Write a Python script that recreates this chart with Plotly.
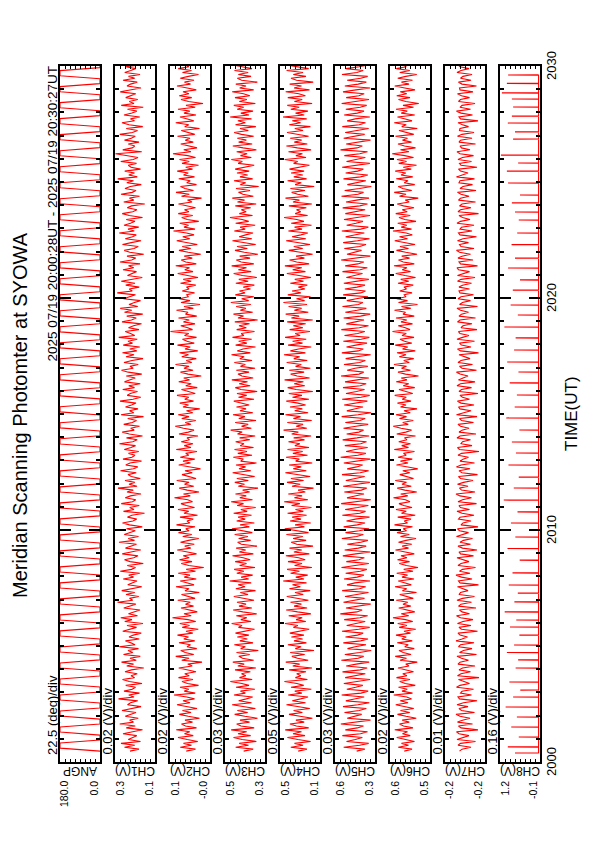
import plotly.graph_objects as go

PAGE_W, PAGE_H = 595, 842
BODY = 8  # default page margin of the html body
W, H = PAGE_W - BODY, PAGE_H - BODY
FONT = "Liberation Sans, Arial, Helvetica, sans-serif"

TITLE = "Meridian Scanning Photomter at SYOWA"
PERIOD = "2025 07/19 20:00:28UT - 2025 07/19 20:30:27UT"
TIME_TICKS = [2000, 2010, 2020, 2030]
TIME_LABELS = ["2000", "2010", "2020", "2030"]
TIME_TITLE = "TIME(UT)"

PANEL_NAMES = ["ANGP", "CH1(V)", "CH2(V)", "CH3(V)", "CH4(V)", "CH5(V)", "CH6(V)", "CH7(V)", "CH8(V)"]
PANEL_SCALE = ["22.5 (deg)/div", "0.02 (V)/div", "0.02 (V)/div", "0.03 (V)/div", "0.05 (V)/div",
               "0.03 (V)/div", "0.02 (V)/div", "0.01 (V)/div", "0.16 (V)/div"]
PANEL_LO = [0.0, 0.14, -0.04, 0.30, 0.12, 0.36, 0.50, -0.24, -0.08]
PANEL_DIV = [22.5, 0.02, 0.02, 0.03, 0.05, 0.03, 0.02, 0.01, 0.16]
N_DIV = 8
HI_LABELS = ["180.0", "0.3", "0.1", "0.5", "0.5", "0.6", "0.6", "-0.2", "1.2"]
LO_LABELS = ["0.0", "0.1", "-0.0", "0.3", "0.1", "0.3", "0.5", "-0.2", "-0.1"]

# sampling of the photometer channels (minutes on an HHMM-style axis)
T_START = 2000.47
T_STEP = 1 / 12

# scanner angle: each sweep starts / ends at these times and ends at ANGP_LEVEL (deg)
ANGP_INITIAL = 0
ANGP_SWEEP_START = [2000.47, 2000.82, 2001.16, 2001.51, 2001.85, 2002.20, 2002.54, 2002.89, 2003.23, 2003.58,
                    2003.92, 2004.27, 2004.61, 2004.96, 2005.30, 2005.65, 2005.99, 2006.34, 2006.68, 2007.03,
                    2007.37, 2007.72, 2008.06, 2008.41, 2008.75, 2009.10, 2009.44, 2009.79, 2010.13, 2010.48,
                    2010.82, 2011.17, 2011.51, 2011.86, 2012.20, 2012.55, 2012.89, 2013.24, 2013.58, 2013.93,
                    2014.27, 2014.62, 2014.96, 2015.31, 2015.65, 2016.00, 2016.34, 2016.69, 2017.03, 2017.38,
                    2017.72, 2018.07, 2018.41, 2018.76, 2019.10, 2019.45, 2019.79, 2020.14, 2020.48, 2020.83,
                    2021.17, 2021.52, 2021.86, 2022.21, 2022.55, 2022.90, 2023.24, 2023.59, 2023.93, 2024.28,
                    2024.62, 2024.97, 2025.31, 2025.66, 2026.00, 2026.35, 2026.69, 2027.04, 2027.38, 2027.73,
                    2028.07, 2028.42, 2028.76, 2029.11, 2029.45, 2029.80, 2030.14]
ANGP_SWEEP_END = [2000.60, 2000.95, 2001.29, 2001.64, 2001.98, 2002.33, 2002.67, 2003.02, 2003.36, 2003.71,
                  2004.05, 2004.40, 2004.74, 2005.09, 2005.43, 2005.78, 2006.12, 2006.47, 2006.81, 2007.16,
                  2007.50, 2007.85, 2008.19, 2008.54, 2008.88, 2009.23, 2009.57, 2009.92, 2010.26, 2010.61,
                  2010.95, 2011.30, 2011.64, 2011.99, 2012.33, 2012.68, 2013.02, 2013.37, 2013.71, 2014.06,
                  2014.40, 2014.75, 2015.09, 2015.44, 2015.78, 2016.13, 2016.47, 2016.82, 2017.16, 2017.51,
                  2017.85, 2018.20, 2018.54, 2018.89, 2019.23, 2019.58, 2019.92, 2020.27, 2020.61, 2020.96,
                  2021.30, 2021.65, 2021.99, 2022.34, 2022.68, 2023.03, 2023.37, 2023.72, 2024.06, 2024.41,
                  2024.75, 2025.10, 2025.44, 2025.79, 2026.13, 2026.48, 2026.82, 2027.17, 2027.51, 2027.86,
                  2028.20, 2028.55, 2028.89, 2029.24, 2029.58, 2029.93, 2030.27]
ANGP_LEVEL = [180, 0, 180, 0, 180, 0, 180, 0, 180, 0, 180, 0, 180, 0, 180, 0, 180, 0, 180, 0,
              180, 0, 180, 0, 180, 0, 180, 0, 180, 0, 180, 0, 180, 0, 180, 0, 180, 0, 180, 0,
              180, 0, 180, 0, 180, 0, 180, 0, 180, 0, 180, 0, 180, 0, 180, 0, 180, 0, 180, 0,
              180, 0, 180, 0, 180, 0, 180, 0, 180, 0, 180, 0, 180, 0, 180, 0, 180, 0, 180, 0,
              180, 0, 180, 0, 180, 0, 180]

# channel values in mV
CH1_MV = [240, 204, 262, 221, 276, 198, 247, 230, 213, 268, 235, 190, 255, 219, 281, 226, 241, 207, 259, 233,
          216, 272, 228, 196, 250, 238, 209, 286, 224, 245, 202, 264, 231, 218, 257, 192, 243, 270, 222, 236,
          211, 260, 234, 185, 253, 226, 274, 215, 240, 199, 266, 229, 248, 206, 283, 220, 237, 258, 203, 244,
          227, 195, 269, 235, 214, 252, 188, 261, 232, 277, 210, 246, 223, 200, 265, 239, 217, 290, 229, 242,
          205, 256, 221, 273, 237, 193, 249, 230, 212, 267, 226, 245, 201, 279, 234, 218, 251, 187, 240, 262,
          225, 208, 271, 236, 197, 258, 231, 214, 284, 222, 247, 206, 263, 239, 219, 254, 191, 242, 270, 228,
          213, 250, 233, 182, 266, 224, 241, 203, 275, 230, 217, 259, 238, 196, 252, 227, 288, 212, 244, 221,
          260, 199, 235, 248, 215, 278, 226, 209, 257, 240, 194, 268, 232, 220, 246, 205, 263, 236, 218, 282,
          229, 211, 254, 190, 243, 271, 223, 237, 202, 265, 231, 214, 249, 186, 276, 225, 242, 208, 258, 234,
          216, 280, 228, 197, 251, 239, 210, 269, 222, 245, 199, 262, 236, 219, 255, 193, 247, 274, 227, 240,
          207, 264, 232, 188, 256, 224, 270, 213, 241, 201, 267, 230, 248, 211, 285, 221, 238, 259, 204, 246,
          226, 194, 272, 234, 215, 253, 189, 262, 233, 279, 209, 244, 222, 198, 266, 237, 218, 291, 231, 243,
          203, 257, 220, 275, 236, 191, 250, 229, 214, 268, 225, 246, 200, 280, 233, 217, 252, 185, 241, 263,
          224, 207, 270, 235, 196, 259, 230, 215, 283, 223, 248, 205, 264, 238, 220, 255, 190, 243, 271, 229,
          212, 251, 234, 181, 265, 225, 242, 202, 276, 231, 216, 260, 239, 195, 253, 226, 289, 211, 245, 222,
          261, 198, 236, 247, 214, 277, 227, 208, 258, 298, 193, 269, 231, 221, 247, 204, 262, 235, 219, 281,
          230, 210, 255, 189, 244, 272, 222, 238, 201, 264, 232, 213, 250, 187, 275, 224, 243, 209, 257, 235,
          217, 279, 229, 196, 252, 238, 211, 268, 221, 246, 200, 261, 237, 218, 256, 194, 248, 273, 226, 239]
CH2_MV = [55, 18, 79, 34, 66, 9, 51, 88, 27, 62, 41, 95, 14, 58, 74, 30, 60, 2, 47, 83,
          36, 70, 12, 57, 92, 40, 68, 22, 53, 104, 19, 63, 45, 80, 6, 50, 72, 28, 86, 43,
          61, 16, 54, 85, 31, 49, -8, 73, 44, 97, 25, 59, 77, 13, 52, 38, 84, 21, 65, 46,
          90, 29, 56, 7, 71, 42, 81, 17, 48, 110, 35, 64, 11, 50, 76, 26, 58, 39, 89, 20,
          47, 74, 3, 60, 44, 96, 24, 53, 79, 15, 63, 40, 87, 18, 55, -15, 45, 75, 32, 82,
          43, 67, 14, 50, 91, 37, 61, 23, 78, 46, 5, 69, 33, 86, 44, 57, 20, 94, 41, 52,
          27, 80, 10, 64, 45, 88, 22, 55, 76, 30, 49, 102, 39, 66, 4, 51, 83, 25, 62, 44,
          93, 16, 47, 72, 31, 60, -2, 50, 85, 38, 68, 21, 79, 45, 57, 12, 95, 36, 63, 28,
          75, 42, 52, 8, 84, 47, 24, 66, 99, 37, 59, 17, 73, 44, 87, 29, 54, 1, 68, 46,
          81, 26, 61, 45, 92, 19, 50, 74, 11, 57, 35, 85, 42, 65, -5, 48, 78, 28, 64, 44,
          98, 33, 55, 15, 73, 46, 82, 9, 60, 39, 90, 23, 52, 70, 14, 62, 45, 118, 30, 49,
          77, 20, 66, 43, 86, 13, 58, 48, 94, 27, 64, 0, 76, 40, 83, 46, 53, 22, 71, 44,
          54, 17, 78, 35, 67, 8, 50, 89, 28, 61, 42, 97, 15, 57, 75, 31, 63, -3, 47, 84,
          37, 71, 11, 58, 93, 41, 69, 24, 54, 106, 20, 64, 46, 81, 5, 51, 73, 29, 87, 44,
          62, 18, 55, 86, 32, 50, -6, 74, 43, 96, 26, 60, 78, 14, 53, 39, 85, 22, 66, 47,
          91, 30, 57, 6, 72, 43, 82, 18, 49, 108, 36, 65, 12, 51, 77, 27, 59, 40, 90, 21,
          48, 75, 2, 61, 45, 97, 25, 54, 80, 16, 64, 41, 88, 19, 56, -12, 46, 76, 33, 83,
          44, 68, 15, 51, 92, 38, 62, 24, 79, 47, 6, 70, 34, 87, 45, 58, 21, 95, 42, 53]
CH3_MV = [428, 371, 476, 399, 455, 352, 437, 489, 386, 462, 410, 503, 365, 444, 470, 393, 450, 345, 421, 482,
          404, 466, 358, 432, 497, 381, 458, 412, 374, 486, 418, 447, 361, 474, 396, 439, 508, 377, 453, 415,
          441, 388, 480, 355, 463, 425, 493, 368, 435, 457, 392, 471, 340, 446, 418, 484, 372, 451, 406, 466,
          397, 477, 423, 363, 459, 438, 500, 384, 445, 409, 472, 350, 433, 491, 379, 456, 414, 468, 366, 440,
          487, 402, 448, 357, 475, 420, 461, 383, 512, 398, 443, 374, 469, 427, 485, 360, 452, 411, 479, 389,
          431, 495, 370, 454, 416, 473, 348, 442, 464, 386, 458, 403, 482, 376, 436, 498, 394, 449, 364, 470,
          419, 461, 381, 488, 407, 445, 356, 467, 429, 503, 375, 451, 413, 477, 392, 434, 342, 460, 423, 481,
          400, 469, 362, 438, 494, 385, 456, 417, 474, 351, 446, 430, 490, 378, 463, 408, 483, 369, 448, 426,
          476, 391, 452, 359, 465, 437, 506, 382, 441, 401, 479, 354, 457, 421, 492, 373, 450, 414, 471, 395,
          435, 487, 366, 459, 410, 468, 347, 444, 478, 389, 455, 405, 499, 371, 439, 462, 396, 472, 360, 447,
          418, 484, 378, 451, 425, 501, 388, 466, 432, 357, 476, 409, 458, 380, 495, 427, 443, 363, 470, 412,
          456, 393, 481, 344, 462, 429, 489, 374, 448, 415, 473, 385, 505, 398, 440, 367, 478, 420, 453, 387,
          430, 364, 475, 401, 457, 349, 436, 488, 383, 460, 411, 500, 367, 443, 472, 390, 452, 343, 424, 480,
          406, 468, 356, 434, 495, 379, 455, 416, 372, 484, 419, 449, 359, 476, 398, 437, 510, 375, 454, 413,
          442, 386, 478, 353, 465, 423, 496, 370, 433, 459, 390, 474, 338, 448, 416, 486, 374, 450, 404, 468,
          395, 479, 421, 365, 461, 436, 502, 382, 447, 407, 470, 352, 431, 493, 377, 458, 412, 466, 368, 441,
          485, 400, 450, 355, 477, 418, 463, 381, 509, 396, 445, 372, 467, 428, 487, 358, 454, 409, 480, 391,
          429, 497, 368, 452, 414, 475, 346, 440, 466, 384, 460, 401, 483, 378, 438, 499, 392, 451, 362, 471]
CH4_MV = [338, 251, 412, 289, 375, 214, 342, 446, 270, 390, 305, 468, 233, 356, 421, 278, 361, 196, 320, 430,
          296, 384, 222, 348, 455, 265, 397, 314, 240, 438, 302, 372, 207, 410, 283, 351, 476, 246, 366, 311,
          353, 260, 428, 200, 392, 324, 462, 238, 345, 401, 273, 418, 180, 367, 309, 441, 256, 380, 294, 406,
          281, 422, 330, 228, 386, 341, 470, 262, 359, 298, 433, 211, 344, 458, 249, 379, 306, 415, 236, 357,
          452, 288, 370, 218, 426, 316, 395, 255, 488, 280, 362, 243, 414, 326, 449, 201, 374, 300, 440, 268,
          334, 461, 227, 381, 303, 425, 190, 352, 408, 259, 389, 292, 456, 235, 347, 472, 276, 369, 213, 419,
          310, 398, 254, 444, 287, 365, 205, 404, 322, 478, 241, 376, 299, 437, 267, 339, 185, 400, 318, 450,
          284, 411, 219, 346, 466, 257, 388, 308, 429, 198, 363, 327, 459, 245, 391, 293, 445, 230, 371, 321,
          435, 275, 383, 209, 403, 337, 484, 252, 358, 290, 447, 203, 386, 315, 465, 239, 373, 297, 420, 264,
          340, 457, 231, 395, 301, 432, 192, 360, 443, 272, 378, 286, 474, 224, 349, 413, 279, 427, 216, 364,
          307, 453, 248, 382, 323, 480, 266, 416, 335, 208, 439, 295, 394, 258, 469, 319, 368, 221, 423, 291,
          387, 263, 448, 193, 406, 329, 463, 237, 377, 304, 434, 250, 486, 274, 355, 215, 442, 312, 399, 271,
          336, 247, 417, 285, 372, 210, 344, 451, 266, 393, 302, 471, 229, 354, 424, 276, 359, 194, 318, 432,
          293, 382, 220, 350, 458, 262, 399, 311, 242, 436, 300, 374, 205, 408, 281, 353, 479, 244, 368, 313,
          355, 257, 431, 202, 390, 326, 465, 236, 343, 403, 271, 416, 178, 369, 307, 444, 254, 382, 292, 409,
          279, 425, 332, 226, 384, 343, 473, 260, 361, 296, 435, 209, 346, 456, 247, 377, 304, 418, 234, 359,
          450, 290, 372, 216, 428, 314, 397, 253, 490, 278, 364, 241, 412, 328, 447, 199, 376, 298, 442, 266,
          332, 463, 225, 379, 305, 423, 188, 354, 410, 261, 387, 290, 454, 233, 349, 470, 274, 371, 211, 421]
CH5_MV = [470, 421, 548, 452, 398, 531, 478, 436, 556, 447, 405, 538, 466, 429, 565, 458, 387, 527, 481, 440,
          543, 455, 412, 552, 463, 394, 535, 471, 425, 560, 444, 401, 529, 476, 433, 547, 459, 389, 539, 468,
          418, 555, 449, 407, 533, 473, 395, 562, 461, 428, 541, 452, 383, 525, 479, 414, 550, 446, 402, 537,
          465, 431, 558, 457, 392, 530, 474, 419, 545, 450, 404, 568, 469, 437, 534, 443, 386, 549, 477, 423,
          540, 462, 399, 557, 453, 416, 528, 480, 390, 546, 467, 427, 536, 448, 409, 561, 472, 397, 532, 456,
          424, 553, 475, 388, 542, 460, 413, 526, 445, 403, 559, 470, 430, 537, 454, 396, 548, 466, 420, 531,
          478, 393, 556, 451, 417, 539, 464, 400, 563, 458, 385, 528, 473, 426, 544, 442, 410, 551, 467, 391,
          535, 476, 422, 558, 449, 398, 527, 470, 434, 547, 455, 388, 566, 463, 415, 533, 479, 404, 541, 446,
          411, 554, 468, 395, 530, 457, 429, 549, 474, 401, 538, 450, 419, 560, 462, 384, 529, 477, 432, 545,
          460, 406, 557, 444, 392, 534, 471, 423, 552, 448, 413, 540, 466, 397, 564, 456, 428, 527, 480, 403,
          546, 452, 418, 536, 469, 386, 559, 461, 430, 531, 475, 408, 550, 443, 394, 543, 464, 421, 562, 454,
          399, 532, 478, 426, 548, 447, 389, 538, 467, 412, 555, 459, 433, 529, 472, 402, 551, 445, 417, 541,
          468, 420, 547, 455, 397, 532, 476, 435, 555, 449, 406, 539, 463, 427, 563, 460, 388, 528, 482, 441,
          544, 452, 414, 551, 465, 393, 536, 470, 424, 559, 446, 400, 530, 474, 432, 546, 458, 390, 538, 469,
          419, 554, 451, 405, 534, 471, 396, 561, 462, 429, 542, 453, 382, 526, 478, 415, 549, 447, 403, 536,
          464, 430, 557, 459, 391, 531, 475, 418, 544, 451, 405, 567, 468, 436, 533, 444, 387, 548, 476, 422,
          539, 463, 398, 556, 454, 417, 527, 479, 391, 545, 466, 426, 535, 449, 410, 560, 471, 396, 533, 457,
          425, 552, 474, 389, 541, 461, 412, 527, 446, 404, 558, 469, 431, 536, 455, 395, 547, 465, 421, 530]
CH6_MV = [603, 572, 627, 586, 614, 562, 598, 633, 579, 610, 590, 641, 568, 606, 622, 583, 611, 555, 596, 630,
          581, 618, 565, 600, 637, 588, 619, 574, 593, 645, 570, 612, 591, 626, 559, 599, 621, 580, 634, 592,
          609, 566, 603, 628, 584, 597, 551, 620, 594, 639, 576, 607, 624, 563, 601, 587, 631, 571, 613, 595,
          636, 578, 604, 557, 623, 592, 629, 569, 598, 648, 585, 615, 561, 600, 625, 577, 608, 589, 635, 567,
          597, 621, 554, 610, 593, 640, 575, 602, 627, 564, 612, 590, 633, 568, 605, 548, 595, 623, 582, 630,
          592, 616, 563, 599, 638, 586, 611, 573, 626, 596, 556, 618, 583, 632, 594, 607, 570, 642, 590, 603,
          576, 629, 559, 614, 595, 636, 572, 605, 624, 580, 598, 646, 589, 617, 553, 601, 631, 575, 612, 594,
          639, 566, 597, 621, 581, 609, 549, 600, 634, 588, 618, 571, 628, 595, 606, 562, 643, 586, 613, 578,
          625, 592, 602, 558, 633, 597, 574, 616, 647, 587, 609, 567, 622, 594, 636, 579, 604, 552, 618, 596,
          630, 576, 611, 595, 641, 569, 600, 624, 561, 607, 585, 635, 592, 615, 546, 598, 628, 578, 614, 594,
          644, 583, 605, 565, 623, 596, 632, 559, 610, 589, 639, 573, 602, 620, 564, 612, 595, 650, 580, 599,
          627, 570, 616, 593, 636, 563, 608, 598, 642, 577, 614, 550, 626, 590, 633, 596, 603, 572, 621, 594,
          604, 567, 628, 585, 617, 558, 600, 637, 578, 611, 592, 644, 563, 607, 626, 582, 613, 552, 597, 634,
          586, 620, 560, 603, 641, 590, 622, 571, 595, 648, 574, 615, 593, 629, 556, 601, 624, 579, 637, 591,
          611, 564, 606, 631, 583, 599, 547, 622, 596, 643, 573, 609, 627, 561, 603, 588, 635, 569, 616, 597,
          639, 575, 607, 554, 625, 594, 632, 566, 601, 651, 584, 618, 558, 602, 628, 574, 610, 590, 638, 565,
          598, 624, 551, 613, 595, 643, 572, 604, 630, 561, 615, 591, 636, 566, 608, 545, 597, 626, 580, 633,
          593, 619, 560, 601, 641, 584, 614, 570, 629, 597, 553, 621, 581, 635, 595, 609, 567, 645, 588, 606]
CH7_MV = [-189, -194, -212, -186, -191, -221, -184, -196, -208, -188, -183, -226, -192, -187, -215, -185, -195, -210, -190, -182,
          -219, -193, -188, -206, -184, -197, -224, -189, -186, -213, -191, -194, -217, -183, -190, -209, -196, -187, -228, -185,
          -192, -211, -188, -195, -220, -186, -190, -207, -193, -184, -223, -189, -197, -214, -187, -191, -218, -182, -194, -205,
          -190, -186, -225, -193, -188, -212, -185, -196, -216, -191, -183, -209, -194, -189, -222, -187, -192, -213, -184, -195,
          -219, -188, -191, -206, -196, -185, -227, -190, -187, -214, -193, -182, -210, -189, -195, -221, -186, -192, -208, -194,
          -184, -217, -191, -188, -224, -195, -186, -211, -190, -197, -215, -183, -193, -207, -189, -185, -226, -192, -196, -212,
          -187, -190, -218, -194, -184, -209, -191, -188, -223, -186, -195, -213, -190, -182, -220, -193, -189, -206, -185, -197,
          -216, -191, -187, -225, -194, -188, -210, -183, -192, -219, -190, -196, -207, -186, -193, -228, -189, -185, -214, -192,
          -195, -211, -184, -190, -222, -188, -194, -208, -191, -186, -217, -193, -189, -224, -183, -196, -212, -190, -187, -218,
          -192, -185, -209, -195, -190, -226, -188, -193, -213, -184, -191, -220, -187, -196, -206, -190, -183, -223, -194, -189,
          -215, -186, -192, -210, -197, -188, -227, -191, -185, -212, -193, -189, -219, -184, -195, -208, -190, -187, -224, -192,
          -196, -214, -185, -190, -221, -188, -193, -207, -191, -184, -225, -189, -195, -211, -186, -192, -217, -190, -188, -209,
          -188, -195, -213, -185, -192, -220, -185, -195, -209, -187, -184, -225, -191, -188, -216, -186, -194, -211, -189, -183,
          -218, -192, -189, -207, -185, -196, -223, -190, -187, -214, -190, -193, -218, -184, -191, -210, -195, -188, -227, -186,
          -191, -212, -189, -194, -221, -187, -191, -208, -192, -185, -222, -190, -196, -215, -188, -190, -219, -183, -193, -206,
          -191, -187, -224, -192, -189, -213, -186, -195, -217, -190, -184, -210, -193, -190, -221, -188, -191, -214, -185, -194,
          -218, -189, -190, -207, -195, -186, -226, -191, -188, -215, -192, -183, -211, -190, -194, -220, -187, -191, -209, -193,
          -185, -216, -190, -189, -223, -194, -187, -212, -191, -196, -214, -184, -192, -208, -190, -186, -225, -191, -195, -213]

# CH8: quiet baseline with short bright spikes (V)
CH8_BASE = -0.035
CH8_SPIKE_T = [2000.39, 2000.65, 2001.08, 2001.51, 2001.94, 2002.37, 2002.80, 2003.10, 2003.45, 2004.05,
               2004.40, 2004.72, 2005.04, 2005.47, 2005.82, 2006.12, 2006.47, 2006.90, 2007.28, 2007.63,
               2008.15, 2008.70, 2009.20, 2009.70, 2010.30, 2010.78, 2011.29, 2011.81, 2012.28, 2012.80,
               2013.32, 2013.79, 2014.31, 2014.83, 2015.30, 2015.82, 2016.34, 2016.81, 2017.24, 2017.76,
               2018.28, 2018.75, 2019.27, 2019.70, 2020.34, 2020.78, 2021.29, 2021.72, 2022.30, 2022.80,
               2023.36, 2023.71, 2024.10, 2024.44, 2024.96, 2025.47, 2025.82, 2026.16, 2026.85, 2027.16,
               2027.54, 2027.84, 2028.23, 2028.58, 2028.84, 2029.25, 2029.61]
CH8_SPIKE_V = [0.72, 0.95, 0.60, 0.84, 0.66, 1.02, 0.78, 0.55, 0.90, 0.70,
               0.62, 0.98, 0.75, 0.58, 0.88, 0.68, 1.05, 0.74, 0.63, 0.92,
               0.80, 0.57, 0.96, 0.71, 0.85, 0.64, 1.08, 0.76, 0.60, 0.93,
               0.69, 0.82, 0.58, 1.00, 0.73, 0.66, 0.89, 0.61, 0.97, 0.75,
               0.70, 1.06, 0.63, 0.86, 0.79, 0.56, 0.94, 0.72, 0.83, 0.65,
               0.60, 0.72, 0.82, 0.56, 0.94, 0.98, 0.62, 1.17, 0.78, 0.72,
               0.95, 0.82, 0.78, 0.82, 1.14, 0.98, 0.94]
CH8_SPIKE_HALF = 0.01

fig = go.Figure()


def series_times(n):
    return [T_START + T_STEP * i for i in range(n)]


t0, v0 = [], []
prev = ANGP_INITIAL
for s, e, lv in zip(ANGP_SWEEP_START, ANGP_SWEEP_END, ANGP_LEVEL):
    t0 += [s, e]
    v0 += [prev, lv]
    prev = lv

channel_data = [(t0, v0)]
for mv in (CH1_MV, CH2_MV, CH3_MV, CH4_MV, CH5_MV, CH6_MV, CH7_MV):
    channel_data.append((series_times(len(mv)), [v / 1000 for v in mv]))

t8, v8 = [], []
for t, v in zip(CH8_SPIKE_T, CH8_SPIKE_V):
    t8 += [t - CH8_SPIKE_HALF, t, t + CH8_SPIKE_HALF]
    v8 += [CH8_BASE, v, CH8_BASE]
channel_data.append((t8, v8))

# page geometry (px on the page)
P_LEFT0, P_STEP, P_W = 60, 55, 40
P_TOP, P_BOT = 66, 762


def px(x):
    return (x - BODY) / W


def py(y):
    return 1 - (y - BODY) / H


annotations = []
for k in range(9):
    n = k + 1
    L = P_LEFT0 + P_STEP * k
    R = L + P_W
    lo = PANEL_LO[k]
    hi = lo + PANEL_DIV[k] * N_DIV
    tt, vv = channel_data[k]
    fig.add_trace(go.Scatter(x=vv, y=tt, mode="lines", xaxis=f"x{n}", yaxis=f"y{n}",
                             line=dict(color="#ff0000", width=1.1), showlegend=False,
                             hoverinfo="skip"))
    fig.layout[f"xaxis{n}"] = dict(
        domain=[px(L), px(R)], range=[hi, lo], anchor=f"y{n}",
        showline=True, linewidth=2, linecolor="black", mirror="ticks",
        ticks="inside", tick0=lo, dtick=PANEL_DIV[k], ticklen=3, tickwidth=1,
        tickcolor="black", showticklabels=False, showgrid=False, zeroline=False)
    fig.layout[f"yaxis{n}"] = dict(
        domain=[py(P_BOT), py(P_TOP)], range=[TIME_TICKS[0], TIME_TICKS[-1]], anchor=f"x{n}",
        showline=True, linewidth=2, linecolor="black", mirror="ticks",
        ticks="inside", tick0=TIME_TICKS[0], dtick=10, ticklen=11, tickwidth=2, tickcolor="black",
        minor=dict(ticks="inside", dtick=1, ticklen=4, tickwidth=2, tickcolor="black", showgrid=False),
        showticklabels=False, showgrid=False, zeroline=False)
    annotations.append(dict(x=px(L - 8), y=py(757), text=PANEL_SCALE[k], textangle=-90,
                            xanchor="center", yanchor="bottom", font=dict(size=13)))
    annotations.append(dict(x=px(L + 20), y=py(771.5), text=PANEL_NAMES[k], textangle=180,
                            xanchor="center", yanchor="middle", font=dict(size=12)))
    annotations.append(dict(x=px(L + 4), y=py(779), text=HI_LABELS[k], textangle=-90,
                            xanchor="center", yanchor="top", font=dict(size=10.5)))
    annotations.append(dict(x=px(R - 7), y=py(779), text=LO_LABELS[k], textangle=-90,
                            xanchor="center", yanchor="top", font=dict(size=10.5)))

for t, lab in zip(TIME_TICKS, TIME_LABELS):
    ypix = P_BOT - (t - TIME_TICKS[0]) * (P_BOT - P_TOP) / (TIME_TICKS[-1] - TIME_TICKS[0])
    annotations.append(dict(x=px(551), y=py(ypix), text=lab, textangle=-90,
                            xanchor="center", yanchor="middle", font=dict(size=13)))

annotations.append(dict(x=px(571), y=py(414), text=TIME_TITLE, textangle=-90,
                        xanchor="center", yanchor="middle", font=dict(size=17)))
annotations.append(dict(x=px(20), y=py(415), text=TITLE, textangle=-90,
                        xanchor="center", yanchor="middle", font=dict(size=20)))
annotations.append(dict(x=px(52), y=py(65), text=PERIOD, textangle=-90,
                        xanchor="center", yanchor="top", font=dict(size=13.5)))

for a in annotations:
    a.update(xref="paper", yref="paper", showarrow=False)

fig.update_layout(width=W, height=H, margin=dict(l=0, r=0, t=0, b=0),
                  paper_bgcolor="white", plot_bgcolor="white",
                  font=dict(family=FONT, color="black"),
                  annotations=annotations)

fig.write_html("out.html", config={"displayModeBar": False})
